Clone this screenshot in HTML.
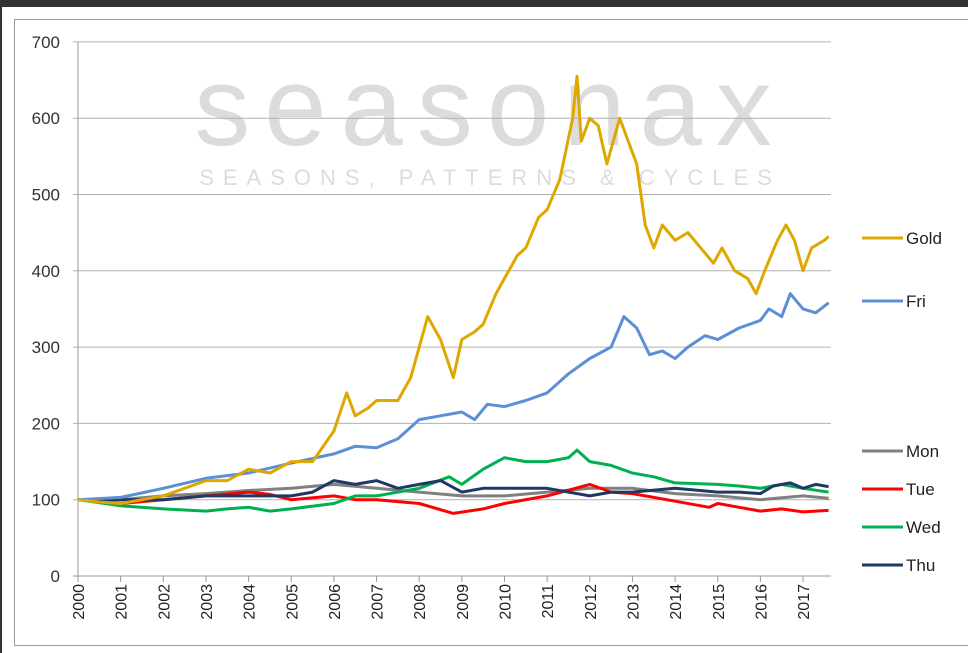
<!DOCTYPE html>
<html><head><meta charset="utf-8"><style>
body{margin:0;background:#fff;}
svg{display:block;font-family:"Liberation Sans",sans-serif;}
</style></head><body>
<svg id="c" width="968" height="653">
<rect x="0" y="0" width="968" height="653" fill="#fff"/>
<rect x="0" y="0" width="968" height="7" fill="#333"/>
<rect x="0" y="0" width="2" height="653" fill="#333"/>
<rect x="14.5" y="19.5" width="970" height="626" fill="none" stroke="#999" stroke-width="1"/>
<g>
<text x="490" y="145" text-anchor="middle" font-size="112" fill="#dcdcdc" letter-spacing="14" font-family="Liberation Sans,sans-serif">seasonax</text>
<text x="490" y="185" text-anchor="middle" font-size="22" fill="#dcdcdc" letter-spacing="9">SEASONS, PATTERNS &amp; CYCLES</text>
</g>
<g id="grid"></g><g id="axes"></g><g id="series"></g><g id="legend"></g>
</svg>
<script>
const yearTicks=[2000,2001,2002,2003,2004,2005,2006,2007,2008,2009,2010,2011,2012,2013,2014,2015,2016,2017];
const yTicks=[0,100,200,300,400,500,600,700];
const goldT=[2000,2000.5,2001,2001.5,2002,2002.5,2003,2003.5,2004,2004.5,2005,2005.5,2006,2006.3,2006.5,2006.8,2007,2007.5,2007.8,2008,2008.2,2008.5,2008.8,2009,2009.3,2009.5,2009.8,2010,2010.3,2010.5,2010.8,2011,2011.3,2011.6,2011.7,2011.8,2012,2012.2,2012.4,2012.7,2012.9,2013.1,2013.3,2013.5,2013.7,2014,2014.3,2014.6,2014.9,2015.1,2015.4,2015.7,2015.9,2016.1,2016.4,2016.6,2016.8,2017,2017.2,2017.5,2017.6];
const goldV=[100,97,95,100,105,115,125,125,140,135,150,150,190,240,210,220,230,230,260,300,340,310,260,310,320,330,370,390,420,430,470,480,520,600,655,570,600,590,540,600,570,540,460,430,460,440,450,430,410,430,400,390,370,400,440,460,440,400,430,440,445];
const friT=[2000,2001,2002,2003,2004,2005,2006,2006.5,2007,2007.5,2008,2008.5,2009,2009.3,2009.6,2010,2010.5,2011,2011.5,2012,2012.5,2012.8,2013.1,2013.4,2013.7,2014,2014.3,2014.7,2015,2015.5,2016,2016.2,2016.5,2016.7,2017,2017.3,2017.6];
const friV=[100,103,115,128,135,148,160,170,168,180,205,210,215,205,225,222,230,240,265,285,300,340,325,290,295,285,300,315,310,325,335,350,340,370,350,345,358];
const monT=[2000,2001,2002,2003,2004,2005,2006,2007,2008,2009,2010,2011,2012,2013,2014,2015,2016,2017,2017.6];
const monV=[100,100,105,108,112,115,120,115,110,105,105,110,115,115,108,105,100,105,102];
const tueT=[2000,2001,2002,2003,2004,2004.5,2005,2006,2006.5,2007,2008,2008.8,2009.5,2010,2011,2012,2012.5,2013,2014,2014.8,2015,2015.5,2016,2016.5,2017,2017.6];
const tueV=[100,95,100,105,110,107,100,105,100,100,95,82,88,95,105,120,110,108,98,90,95,90,85,88,84,86];
const wedT=[2000,2001,2002,2003,2003.5,2004,2004.5,2005,2006,2006.5,2007,2008,2008.7,2009,2009.5,2010,2010.5,2011,2011.5,2011.7,2012,2012.5,2013,2013.5,2014,2015,2015.5,2016,2016.5,2017,2017.6];
const wedV=[100,92,88,85,88,90,85,88,95,105,105,115,130,120,140,155,150,150,155,165,150,145,135,130,122,120,118,115,120,115,110];
const thuT=[2000,2001,2002,2003,2004,2005,2005.5,2006,2006.5,2007,2007.5,2008,2008.5,2009,2009.5,2010,2011,2012,2012.5,2013,2014,2015,2015.5,2016,2016.3,2016.7,2017,2017.3,2017.6];
const thuV=[100,100,100,105,105,105,110,125,120,125,115,120,125,110,115,115,115,105,110,110,115,110,110,108,118,122,115,120,117];
const NS="http://www.w3.org/2000/svg";
const X0=78,YR=42.65,Y0=576,YS=0.763,XR=831;
function xs(t){return X0+(t-2000)*YR;}
function ys(v){return Y0-v*YS;}
function mk(tag,at,parent){const e=document.createElementNS(NS,tag);for(const k in at)e.setAttribute(k,at[k]);parent.appendChild(e);return e;}
const grid=document.getElementById('grid'),axes=document.getElementById('axes'),ser=document.getElementById('series'),leg=document.getElementById('legend');
yTicks.forEach(v=>{
 const l=mk('line',{x1:X0-5,x2:XR,y1:ys(v),y2:ys(v),stroke:v===0?'#999':'#b0b0b0','stroke-width':1},grid);
 
 
 const t=mk('text',{x:60,y:ys(v)+6,'text-anchor':'end','font-size':17,fill:'#333'},axes);t.textContent=v;
 
 
});
const ya=mk('line',{x1:X0,x2:X0,y1:ys(700),y2:Y0,stroke:'#999'},axes);


yearTicks.forEach(y=>{
 const x=xs(y);
 mk('line',{x1:x,x2:x,y1:Y0,y2:Y0+6,stroke:'#999'},axes);
 const t=mk('text',{x:0,y:0,'text-anchor':'end','font-size':16,fill:'#222',transform:`translate(${x+6},${Y0+8}) rotate(-90)`},axes);
 t.textContent=y;
 
 
});
function line(T,V,col,name){
 const d=T.map((t,i)=>(i?'L':'M')+xs(t).toFixed(1)+','+ys(V[i]).toFixed(1)).join('');
 const p=mk('path',{d:d,fill:'none',stroke:col,'stroke-width':3,'stroke-linejoin':'round'},ser);
 
 
}
line(monT,monV,'#808080','series-mon');
line(tueT,tueV,'#ff0000','series-tue');
line(wedT,wedV,'#00b050','series-wed');
line(thuT,thuV,'#1f3864','series-thu');
line(friT,friV,'#5b8fd6','series-fri');
line(goldT,goldV,'#dfa800','series-gold');
const legNames=['Gold','Fri','Mon','Tue','Wed','Thu'];
const legCols=['#dfa800','#5b8fd6','#808080','#ff0000','#00b050','#1f3864'];
const legY=[238,301,451,489,527,565];
legNames.forEach((n,i)=>{
 const g=mk('g',{},leg);
 
 
 mk('line',{x1:862,x2:903,y1:legY[i],y2:legY[i],stroke:legCols[i],'stroke-width':3},g);
 const t=mk('text',{x:906,y:legY[i]+6,'font-size':17,fill:'#222'},g);t.textContent=n;
});
</script>
</body></html>
